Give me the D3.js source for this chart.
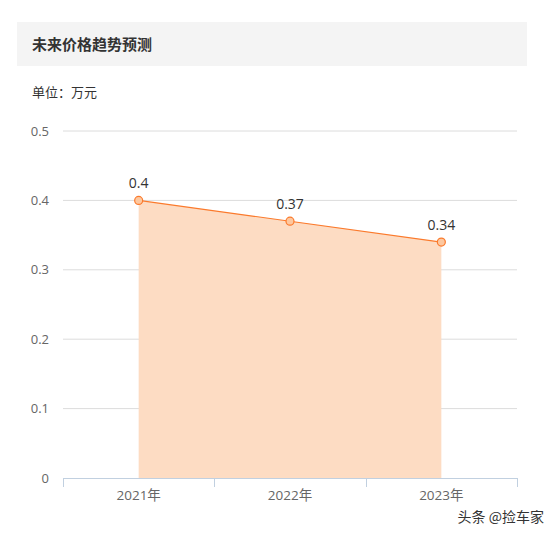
<!DOCTYPE html>
<html>
<head>
<meta charset="utf-8">
<script src="https://cdn.jsdelivr.net/npm/d3@7"></script>
<style>
  body { margin: 0; background: #fff; }
  svg { display: block; font-family: "Microsoft YaHei", "Noto Sans CJK SC", sans-serif; }
  .num { font-family: "Open Sans", "Noto Sans CJK SC", sans-serif; }
</style>
</head>
<body>
<svg id="chart" width="556" height="537"></svg>
<script>
// == Daten ==
const TITLE = '未来价格趋势预测';
const UNIT = '单位：万元';
const YEARS = ['2021年', '2022年', '2023年'];
const PRICES = [0.4, 0.37, 0.34];
const Y_TICKS = [0, 0.1, 0.2, 0.3, 0.4, 0.5];

const svg = d3.select('#chart');

// Kopfzeile
svg.append('rect')
    .attr('x', 17).attr('y', 22)
    .attr('width', 510).attr('height', 44)
    .attr('fill', '#f4f4f4');
svg.append('text')
    .attr('x', 32).attr('y', 50)
    .attr('font-size', 15).attr('font-weight', 'bold')
    .attr('fill', '#333')
    .text(TITLE);
svg.append('text')
    .attr('x', 32).attr('y', 97)
    .attr('font-size', 13)
    .attr('fill', '#333')
    .text(UNIT);

// Skalen
const x = d3.scaleBand().domain(YEARS).range([63, 517]);
const y = d3.scaleLinear().domain([0, 0.5]).range([478, 131]);

// Gitterlinien + Y-Beschriftung
svg.append('g')
    .selectAll('line')
    .data(Y_TICKS.filter(d => d > 0))
    .join('line')
    .attr('x1', 63).attr('x2', 517)
    .attr('y1', d => y(d)).attr('y2', d => y(d))
    .attr('stroke', '#dcdcdc');

svg.append('g')
    .selectAll('text')
    .data(Y_TICKS)
    .join('text')
    .attr('class', 'num')
    .attr('x', 49)
    .attr('y', d => y(d))
    .attr('dy', '0.35em')
    .attr('text-anchor', 'end')
    .attr('font-size', 13)
    .attr('fill', '#666')
    .text(d => d);

// Fläche + Linie
const cx = d => x(d.year) + x.bandwidth() / 2;
const points = YEARS.map((year, i) => ({ year: year, value: PRICES[i] }));

svg.append('path')
    .datum(points)
    .attr('fill', '#fddcc3')
    .attr('d', d3.area().x(cx).y0(y(0)).y1(d => y(d.value)));

svg.append('path')
    .datum(points)
    .attr('fill', 'none')
    .attr('stroke', '#fb7a2c')
    .attr('stroke-width', 1.2)
    .attr('d', d3.line().x(cx).y(d => y(d.value)));

svg.append('g')
    .selectAll('circle')
    .data(points)
    .join('circle')
    .attr('cx', cx)
    .attr('cy', d => y(d.value))
    .attr('r', 4)
    .attr('fill', '#fdc8a0')
    .attr('stroke', '#fb7a2c')
    .attr('stroke-width', 1.2);

svg.append('g')
    .selectAll('text')
    .data(points)
    .join('text')
    .attr('class', 'num')
    .attr('x', cx)
    .attr('y', d => y(d.value) - 12)
    .attr('text-anchor', 'middle')
    .attr('font-size', 14)
    .attr('fill', '#333')
    .text(d => d.value);

// X-Achse
const xAxis = svg.append('g')
    .attr('transform', `translate(0,${y(0)})`)
    .call(d3.axisBottom(x).tickSize(0).tickPadding(12));
xAxis.select('.domain').attr('stroke', '#c1d0e0').attr('d', 'M63.5,0.5H517.5');
xAxis.selectAll('text').attr('font-size', 13.5).attr('fill', '#666')
    .attr('font-family', '"Open Sans", "Noto Sans CJK SC", sans-serif');
// Trennstriche zwischen den Kategorien
xAxis.selectAll('.sep')
    .data([63, ...YEARS.map(d => x(d) + x.bandwidth())])
    .join('line')
    .attr('class', 'sep')
    .attr('x1', d => Math.round(d) + 0.5).attr('x2', d => Math.round(d) + 0.5)
    .attr('y1', 0).attr('y2', 9)
    .attr('stroke', '#c1d0e0');

// Wasserzeichen
svg.append('text')
    .attr('x', 544).attr('y', 522)
    .attr('text-anchor', 'end')
    .attr('font-size', 14)
    .attr('fill', '#333')
    .attr('stroke', '#fff').attr('stroke-width', 2).attr('paint-order', 'stroke')
    .text('头条 @捡车家');
</script>
</body>
</html>
